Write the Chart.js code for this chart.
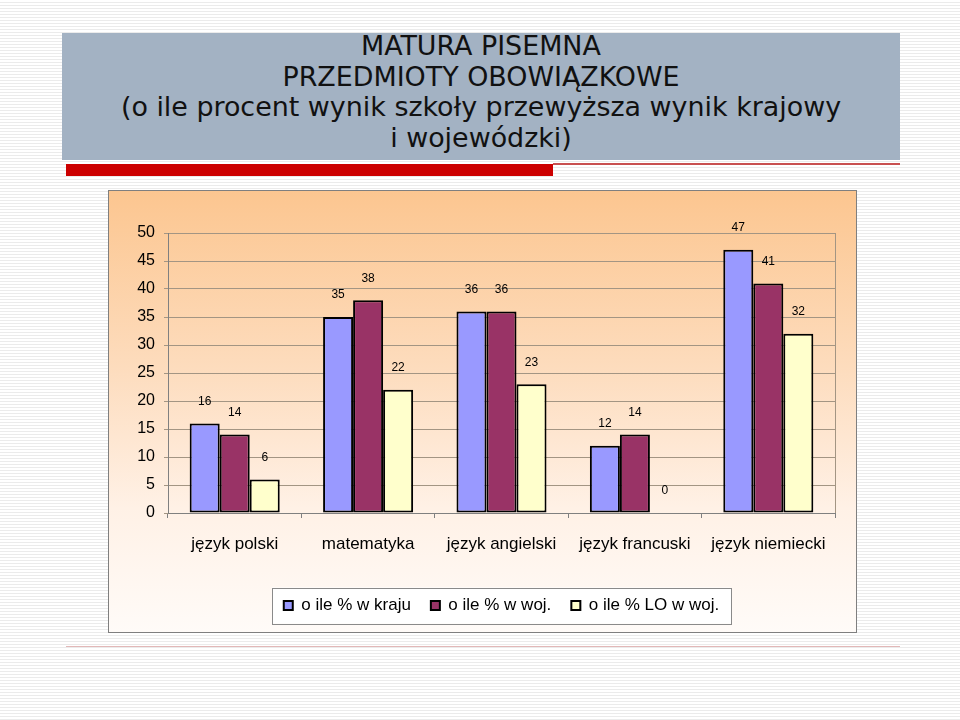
<!DOCTYPE html>
<html>
<head>
<meta charset="utf-8">
<title>Matura pisemna - przedmioty obowiązkowe</title>
<script src="https://cdn.jsdelivr.net/npm/chart.js@4.4.0/dist/chart.umd.min.js"></script>
<style>
  body {
    margin: 0; width: 960px; height: 720px; position: relative; overflow: hidden;
    background: repeating-linear-gradient(to bottom, #ffffff 0px, #ffffff 2px, #ebebeb 2px, #ebebeb 3px);
  }
  #header {
    position: absolute; left: 62px; top: 33px; width: 838px; height: 127px;
    background: #a3b2c3; text-align: center; color: #111;
    font-family: "DejaVu Sans Condensed", "DejaVu Sans", sans-serif;
    font-size: 26px; line-height: 30.5px;
  }
  #header div { transform: scaleX(1.15); margin-top: -2px; }
  #redbar { position: absolute; left: 66px; top: 164px; width: 487px; height: 12px; background: #cc0000; }
  #redline { position: absolute; left: 553px; top: 163px; width: 347px; height: 2px; background: #c85050; }
  #bottomline { position: absolute; left: 66px; top: 646px; width: 834px; height: 1px; background: #e2b8b8; }
  #chartbox {
    position: absolute; left: 108px; top: 190px; width: 747px; height: 441px;
    border: 1px solid #7f7f7f;
    background: linear-gradient(to bottom, #fcc690 0%, #fddcbd 40%, #fff1e6 72%, #fffbf8 100%);
  }
</style>
</head>
<body>
  <div id="header"><div>MATURA PISEMNA<br>PRZEDMIOTY OBOWIĄZKOWE<br>(o ile procent wynik szkoły przewyższa wynik krajowy<br>i wojewódzki)</div></div>
  <div id="redbar"></div>
  <div id="redline"></div>
  <div id="bottomline"></div>
  <div id="chartbox"><canvas id="myChart" width="747" height="441"></canvas></div>
<script>
  var categories = ['język polski', 'matematyka', 'język angielski', 'język francuski', 'język niemiecki'];
  var seriesNames = ['o ile % w kraju', 'o ile % w woj.', 'o ile % LO w woj.'];
  var krajValues = [16, 35, 36, 12, 47];
  var wojValues = [14, 38, 36, 14, 41];
  var loValues = [6, 22, 23, 0, 32];
  var yMin = 0, yMax = 50, yStep = 5;

  var font = 'Liberation Sans';

  // value labels above each bar
  var valueLabels = {
    id: 'valueLabels',
    afterDatasetsDraw: function(chart) {
      var ctx = chart.ctx;
      ctx.save();
      ctx.font = '12px "' + font + '"';
      ctx.fillStyle = '#000';
      ctx.textAlign = 'center';
      ctx.textBaseline = 'middle';
      chart.data.datasets.forEach(function(ds, i) {
        chart.getDatasetMeta(i).data.forEach(function(bar, j) {
          ctx.fillText(ds.data[j], bar.x, bar.y - 22);
        });
      });
      ctx.restore();
    }
  };

  // frame round the legend + right edge of the plot
  var frames = {
    id: 'frames',
    beforeDraw: function(chart) {
      var hb = chart.legend.legendHitBoxes;
      if (!hb || !hb.length) return;
      var left = Math.min.apply(null, hb.map(function(h) { return h.left; })) - 12;
      var right = Math.max.apply(null, hb.map(function(h) { return h.left + h.width; })) + 12;
      var cy = hb[0].top + hb[0].height / 2;
      var ctx = chart.ctx;
      ctx.save();
      ctx.fillStyle = '#ffffff';
      ctx.fillRect(left, cy - 18, right - left, 36);
      ctx.strokeStyle = '#8a8a8a';
      ctx.lineWidth = 1;
      ctx.strokeRect(Math.round(left) + 0.5, Math.round(cy - 18) + 0.5, Math.round(right - left), 36);
      ctx.restore();
    },
    afterDraw: function(chart) {
      var a = chart.chartArea, ctx = chart.ctx;
      ctx.save();
      ctx.strokeStyle = '#a39583';
      ctx.lineWidth = 1;
      ctx.beginPath();
      ctx.moveTo(Math.round(a.right) + 0.5, a.top);
      ctx.lineTo(Math.round(a.right) + 0.5, a.bottom);
      ctx.stroke();
      ctx.restore();
    }
  };

  var ctx = document.getElementById('myChart').getContext('2d');
  var myChart = new Chart(ctx, {
    type: 'bar',
    data: {
      labels: categories,
      datasets: [
        { label: seriesNames[0], data: krajValues, backgroundColor: '#9999ff' },
        { label: seriesNames[1], data: wojValues, backgroundColor: '#993366' },
        { label: seriesNames[2], data: loValues, backgroundColor: '#ffffcc' }
      ]
    },
    options: {
      responsive: false,
      animation: false,
      datasets: {
        bar: {
          borderColor: '#000',
          borderWidth: 2,
          borderSkipped: false,
          categoryPercentage: 0.675,
          barPercentage: 1
        }
      },
      layout: { padding: { top: 42, right: 21, bottom: 8, left: 0 } },
      scales: {
        x: {
          grid: { display: true, drawOnChartArea: false, offset: true, tickLength: 5, color: '#808080' },
          border: { color: '#808080' },
          ticks: { font: { family: font, size: 17 }, color: '#000', padding: 16, maxRotation: 0 },
          afterFit: function(s) { s.height = 64; }
        },
        y: {
          min: yMin,
          max: yMax,
          ticks: { stepSize: yStep, font: { family: font, size: 16 }, color: '#000', padding: 9 },
          grid: { color: '#a39583', tickLength: 4 },
          border: { color: '#808080' },
          afterFit: function(s) { s.width = 59; }
        }
      },
      plugins: {
        legend: {
          position: 'bottom',
          fullSize: false,
          labels: { boxWidth: 9, boxHeight: 9, padding: 20, color: '#000', font: { family: font, size: 17 } }
        },
        tooltip: { enabled: false }
      }
    },
    plugins: [valueLabels, frames]
  });
</script>
</body>
</html>
